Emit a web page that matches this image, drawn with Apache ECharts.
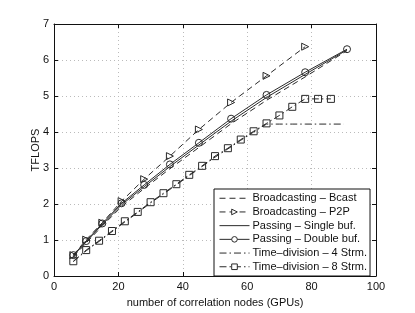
<!DOCTYPE html>
<html>
<head>
<meta charset="utf-8">
<script src="https://cdn.jsdelivr.net/npm/echarts@6/dist/echarts.min.js"></script>
<style>
html,body{margin:0;padding:0;background:#fff;}
#c{width:415px;height:313px;}
</style>
</head>
<body>
<div id="c"></div>
<script>
// Data
const xTri = [6, 10, 15, 21, 28, 36, 45, 55, 66, 78, 91];
const bcast = [0.53, 0.92, 1.39, 1.93, 2.43, 2.98, 3.57, 4.23, 4.88, 5.53, 6.26];
const xP2P = [6, 10, 15, 21, 28, 36, 45, 55, 66, 78];
const p2p = [0.58, 1.01, 1.48, 2.08, 2.69, 3.33, 4.07, 4.82, 5.56, 6.37];
const singleBuf = [0.56, 0.95, 1.43, 1.98, 2.48, 3.04, 3.64, 4.30, 4.96, 5.60, 6.28];
const doubleBuf = [0.58, 0.97, 1.46, 2.02, 2.53, 3.10, 3.70, 4.37, 5.03, 5.66, 6.30];
const x4 = [6, 10, 14, 18, 22, 26, 30, 34, 38, 42, 46, 50, 54, 58, 62, 66, 70, 74, 78, 82, 86, 90];
const strm4 = [0.40, 0.70, 0.96, 1.23, 1.50, 1.76, 2.03, 2.28, 2.53, 2.79, 3.04, 3.30, 3.53, 3.77, 4.00, 4.22, 4.22, 4.22, 4.22, 4.22, 4.22, 4.22];
const x8 = [6, 10, 14, 18, 22, 26, 30, 34, 38, 42, 46, 50, 54, 58, 62, 66, 70, 74, 78, 82, 86];
const strm8 = [0.41, 0.72, 0.98, 1.25, 1.52, 1.78, 2.05, 2.30, 2.55, 2.81, 3.06, 3.33, 3.55, 3.79, 4.02, 4.24, 4.46, 4.70, 4.92, 4.92, 4.92];
const names = ['Broadcasting \u2013 Bcast', 'Broadcasting \u2013 P2P', 'Passing \u2013 Single buf.', 'Passing \u2013 Double buf.', 'Time\u2013division \u2013 4 Strm.', 'Time\u2013division \u2013 8 Strm.'];
const hasMarker = [false, true, false, true, false, true];
const xTicks = [0, 20, 40, 60, 80, 100];
const yTicks = [0, 1, 2, 3, 4, 5, 6, 7];

function pairs(xs, ys) { return xs.map((x, i) => [x, ys[i]]); }

const C = '#2a2a2a';
const F = 'Liberation Sans, Arial, sans-serif';
const dash = [6, 4];
const dashDot = [7, 3, 1.5, 3];
const lineTypes = [dash, dash, 'solid', 'solid', dashDot, dashDot];

function mk(name, data, type, symbol, rot) {
  return {
    name: name, type: 'line', data: data,
    symbol: symbol || 'none', symbolSize: 7, symbolRotate: rot || 0,
    showSymbol: !!symbol,
    lineStyle: { color: C, width: 1, type: type },
    itemStyle: { color: 'rgba(255,255,255,0)', borderColor: C, borderWidth: 1 },
    emphasis: { disabled: true },
    animation: false, z: 3
  };
}

const legendData = names.map((n, i) => ({
  name: n,
  lineStyle: { color: C, width: 1, type: lineTypes[i] },
  itemStyle: hasMarker[i]
    ? { color: '#fff', borderColor: C, borderWidth: 1 }
    : { color: 'rgba(0,0,0,0)', borderColor: 'rgba(0,0,0,0)', borderWidth: 0, opacity: 0 }
}));

const chart = echarts.init(document.getElementById('c'), null, { renderer: 'canvas' });
chart.setOption({
  backgroundColor: '#fff',
  animation: false,
  grid: { left: 54, right: 39, top: 24, bottom: 35, show: false },
  xAxis: [{
    type: 'value', min: xTicks[0], max: xTicks[xTicks.length - 1], interval: 20,
    name: 'number of correlation nodes (GPUs)', nameLocation: 'middle', nameGap: 21,
    nameMoveOverlap: false,
    nameTextStyle: { fontFamily: F, fontSize: 11, color: '#111' },
    axisLine: { lineStyle: { color: '#111', width: 1 } },
    axisTick: { inside: true, length: 4, lineStyle: { color: '#111' } },
    axisLabel: { fontFamily: F, fontSize: 11, color: '#111', margin: 5 },
    splitLine: { show: true, lineStyle: { color: '#bbb', type: [1, 3], width: 1 } }
  }, {
    type: 'value', position: 'top', min: 0, max: 100, interval: 20,
    axisLine: { show: true, onZero: false, lineStyle: { color: '#111' } },
    axisTick: { inside: true, length: 4, lineStyle: { color: '#111' } },
    axisLabel: { show: false }, splitLine: { show: false }
  }],
  yAxis: [{
    type: 'value', min: yTicks[0], max: yTicks[yTicks.length - 1], interval: 1,
    name: 'TFLOPS', nameLocation: 'middle', nameGap: 13, nameRotate: 90,
    nameMoveOverlap: false,
    nameTextStyle: { fontFamily: F, fontSize: 11, color: '#111' },
    axisLine: { show: true, lineStyle: { color: '#111', width: 1 } },
    axisTick: { show: true, inside: true, length: 4, lineStyle: { color: '#111' } },
    axisLabel: { fontFamily: F, fontSize: 11, color: '#111', margin: 5 },
    splitLine: { show: true, lineStyle: { color: '#bbb', type: [1, 3], width: 1 } }
  }, {
    type: 'value', position: 'right', min: 0, max: 7, interval: 1,
    axisLine: { show: true, onZero: false, lineStyle: { color: '#111' } },
    axisTick: { show: true, inside: true, length: 4, lineStyle: { color: '#111' } },
    axisLabel: { show: false }, splitLine: { show: false }
  }],
  legend: {
    left: 214, top: 189, orient: 'vertical',
    backgroundColor: '#fff', borderColor: '#111', borderWidth: 1,
    padding: [3, 3, 3, 5], itemGap: 1.2, itemWidth: 30, itemHeight: 7,
    textStyle: { fontFamily: F, fontSize: 11, color: '#111', padding: [0, 0, 0, -2], lineHeight: 12.5 },
    data: legendData
  },
  series: [
    mk(names[0], pairs(xTri, bcast), lineTypes[0]),
    mk(names[1], pairs(xP2P, p2p), lineTypes[1], 'triangle', -90),
    mk(names[2], pairs(xTri, singleBuf), lineTypes[2]),
    mk(names[3], pairs(xTri, doubleBuf), lineTypes[3], 'circle'),
    mk(names[4], pairs(x4, strm4), lineTypes[4]),
    mk(names[5], pairs(x8, strm8), lineTypes[5], 'rect')
  ]
});
</script>
</body>
</html>
